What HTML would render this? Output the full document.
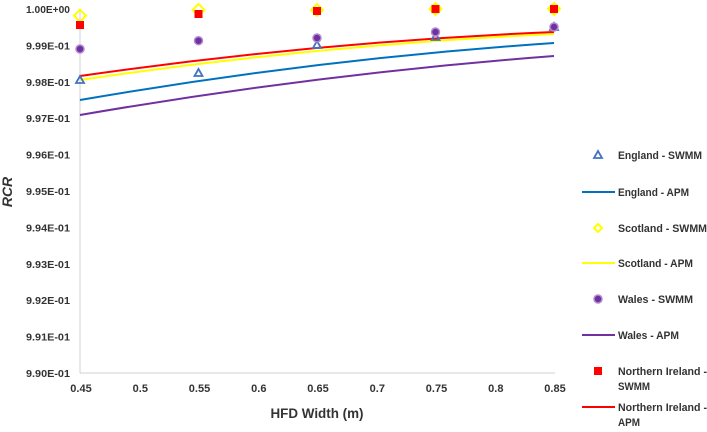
<!DOCTYPE html>
<html><head><style>
body{margin:0;background:#fff;}
svg text{font-family:"Liberation Sans",sans-serif;font-weight:bold;fill:#333;}
</style></head><body>
<svg width="707" height="427" xmlns="http://www.w3.org/2000/svg">
<line x1="80" y1="9" x2="80" y2="373" stroke="#d0d0d0" stroke-width="1"/>
<line x1="80" y1="373" x2="555" y2="373" stroke="#d0d0d0" stroke-width="1"/>
<g font-size="10" text-anchor="end">
<text x="70" y="13" textLength="44" lengthAdjust="spacingAndGlyphs">1.00E+00</text>
<text x="70" y="49.4" textLength="44" lengthAdjust="spacingAndGlyphs">9.99E-01</text>
<text x="70" y="85.8" textLength="44" lengthAdjust="spacingAndGlyphs">9.98E-01</text>
<text x="70" y="122.2" textLength="44" lengthAdjust="spacingAndGlyphs">9.97E-01</text>
<text x="70" y="158.6" textLength="44" lengthAdjust="spacingAndGlyphs">9.96E-01</text>
<text x="70" y="195" textLength="44" lengthAdjust="spacingAndGlyphs">9.95E-01</text>
<text x="70" y="231.4" textLength="44" lengthAdjust="spacingAndGlyphs">9.94E-01</text>
<text x="70" y="267.8" textLength="44" lengthAdjust="spacingAndGlyphs">9.93E-01</text>
<text x="70" y="304.2" textLength="44" lengthAdjust="spacingAndGlyphs">9.92E-01</text>
<text x="70" y="340.6" textLength="44" lengthAdjust="spacingAndGlyphs">9.91E-01</text>
<text x="70" y="377" textLength="44" lengthAdjust="spacingAndGlyphs">9.90E-01</text>
</g>
<g font-size="11" text-anchor="middle">
<text x="81" y="392">0.45</text><text x="140.3" y="392">0.5</text><text x="199.5" y="392">0.55</text>
<text x="258.8" y="392">0.6</text><text x="318" y="392">0.65</text><text x="377.3" y="392">0.7</text>
<text x="436.5" y="392">0.75</text><text x="495.8" y="392">0.8</text><text x="555" y="392">0.85</text>
</g>
<text x="317" y="418" font-size="14" text-anchor="middle" textLength="93" lengthAdjust="spacingAndGlyphs">HFD Width (m)</text>
<text transform="translate(12,192) rotate(-90)" font-size="14" font-style="italic" text-anchor="middle">RCR</text>
<path d="M80,115 Q317,74 554,56" fill="none" stroke="#7030a0" stroke-width="2"/>
<path d="M80,100 Q317,59 554,43" fill="none" stroke="#0070c0" stroke-width="2"/>
<path d="M80,80 Q317,45 554,34" fill="none" stroke="#ffff00" stroke-width="2"/>
<path d="M80,76 Q317,42 554,32" fill="none" stroke="#ff0000" stroke-width="2"/>
<g fill="none" stroke="#4472c4" stroke-width="1.8">
<path d="M80,76 l4,7 h-8z"/><path d="M198.5,69 l4,7 h-8z"/><path d="M317,41 l4,7 h-8z"/><path d="M435.5,33 l4,7 h-8z"/><path d="M554,23 l4,7 h-8z"/>
</g>
<g fill="#7030a0" stroke="#b08cd0" stroke-width="1.5">
<circle cx="80" cy="49" r="4"/><circle cx="198.5" cy="40.7" r="4"/><circle cx="317" cy="38" r="4"/><circle cx="435.5" cy="32" r="4"/><circle cx="554" cy="27" r="4"/>
</g>
<g fill="none" stroke="#ffff00" stroke-width="2">
<path d="M80,9.7 l6,6 l-6,6 l-6,-6z"/><path d="M198.5,4 l6,6 l-6,6 l-6,-6z"/><path d="M317,4 l6,6 l-6,6 l-6,-6z"/><path d="M435.5,3 l6,6 l-6,6 l-6,-6z"/><path d="M554,3 l6,6 l-6,6 l-6,-6z"/>
</g>
<g fill="#ff0000">
<rect x="76" y="21" width="8" height="8"/><rect x="194.5" y="10" width="8" height="8"/><rect x="313" y="7" width="8" height="8"/><rect x="431.5" y="5" width="8" height="8"/><rect x="550" y="5" width="8" height="8"/>
</g>
<g font-size="11">
<path d="M598,151 l4,7 h-8z" fill="none" stroke="#4472c4" stroke-width="1.8"/>
<text x="618" y="159" textLength="84" lengthAdjust="spacingAndGlyphs">England - SWMM</text>
<line x1="582" y1="192" x2="615" y2="192" stroke="#0070c0" stroke-width="2"/>
<text x="618" y="196" textLength="71" lengthAdjust="spacingAndGlyphs">England - APM</text>
<path d="M598,224 l4,4 l-4,4 l-4,-4z" fill="none" stroke="#ffff00" stroke-width="2"/>
<text x="618" y="232" textLength="89" lengthAdjust="spacingAndGlyphs">Scotland - SWMM</text>
<line x1="582" y1="263" x2="615" y2="263" stroke="#ffff00" stroke-width="2"/>
<text x="618" y="267" textLength="75" lengthAdjust="spacingAndGlyphs">Scotland - APM</text>
<circle cx="598" cy="299" r="4" fill="#7030a0" stroke="#b08cd0" stroke-width="1.5"/>
<text x="618" y="303" textLength="75" lengthAdjust="spacingAndGlyphs">Wales - SWMM</text>
<line x1="582" y1="335" x2="615" y2="335" stroke="#7030a0" stroke-width="2"/>
<text x="618" y="339" textLength="61" lengthAdjust="spacingAndGlyphs">Wales - APM</text>
<rect x="594" y="367" width="8" height="8" fill="#ff0000"/>
<text x="618" y="375" textLength="89" lengthAdjust="spacingAndGlyphs">Northern Ireland -</text>
<text x="618" y="390" textLength="32" lengthAdjust="spacingAndGlyphs">SWMM</text>
<line x1="582" y1="407" x2="615" y2="407" stroke="#ff0000" stroke-width="2"/>
<text x="618" y="411" textLength="89" lengthAdjust="spacingAndGlyphs">Northern Ireland -</text>
<text x="618" y="426" textLength="22" lengthAdjust="spacingAndGlyphs">APM</text>
</g>
</svg>
</body></html>
